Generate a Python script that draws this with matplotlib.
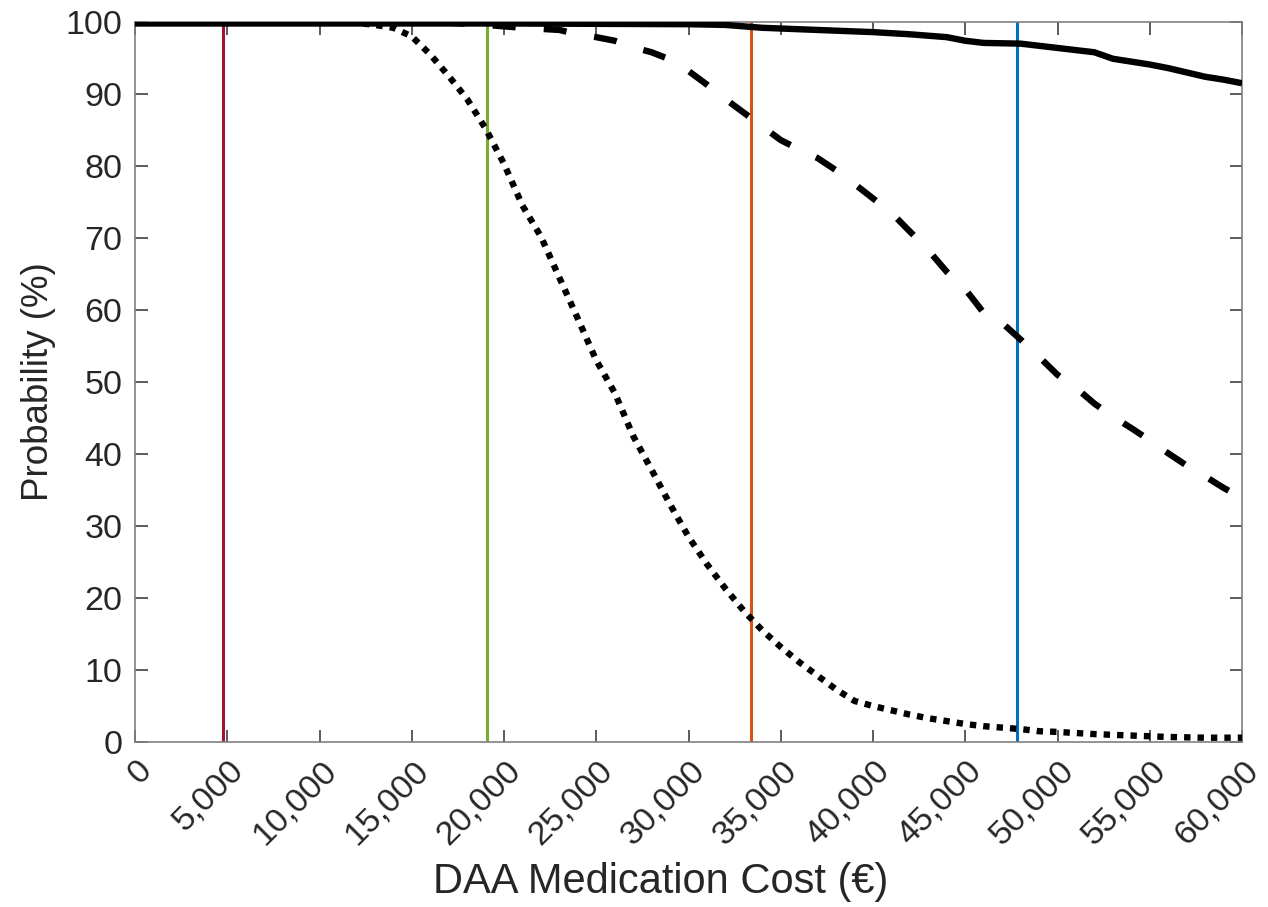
import matplotlib
matplotlib.use("Agg")
import matplotlib.pyplot as plt
from matplotlib.ticker import FuncFormatter
from matplotlib.transforms import ScaledTranslation

# ---- data ----
solid_x = [0, 10000, 20000, 30000, 32000, 34000, 36000, 38000, 40000, 42000, 44000,
           45000, 46000, 48000, 50000, 52000, 53000, 55000, 56000, 57000, 58000, 59000, 60000]
solid_y = [99.8, 99.8, 99.8, 99.7, 99.6, 99.2, 99.0, 98.8, 98.6, 98.3, 97.9,
           97.4, 97.1, 97.0, 96.4, 95.8, 94.9, 94.1, 93.6, 93.0, 92.4, 92.0, 91.5]

dashed_x = [0, 15000, 17000, 19000, 21000, 23000, 24000, 25000, 26000, 27000, 28000, 29000,
            30000, 31000, 32000, 33000, 34000, 35000, 36000, 37000, 38000, 39000, 40000,
            41000, 42000, 43000, 44000, 45000, 46000, 47000, 48000, 49000, 50000, 51000,
            52000, 53000, 54000, 55000, 56000, 57000, 58000, 59000, 60000]
dashed_y = [100, 100, 99.9, 99.6, 99.2, 98.9, 98.3, 97.9, 97.4, 96.5, 95.8, 94.8,
            93.2, 91.3, 89.3, 87.4, 85.5, 83.6, 82.3, 81.1, 79.4, 77.5, 75.5,
            73.5, 70.9, 68.3, 65.3, 62.9, 59.6, 58.2, 55.9, 53.5, 51.0, 49.2,
            47.0, 45.2, 43.6, 41.9, 40.1, 38.4, 36.9, 35.3, 33.9]

dotted_x = [0, 10000, 12000, 13000, 14000, 15000, 16000, 17000, 18000, 19000, 20000,
            21000, 22000, 23000, 24000, 25000, 26000, 27000, 28000, 29000, 30000, 31000,
            32000, 33000, 34000, 35000, 36000, 37000, 38000, 39000, 40000, 41000, 42000,
            43000, 44000, 45000, 46000, 47000, 48000, 49000, 50000, 52000, 54000, 56000,
            58000, 60000]
dotted_y = [100, 100, 99.9, 99.6, 99.2, 98.0, 95.5, 92.5, 89.3, 85.2, 80.3,
            74.5, 70.2, 64.5, 58.8, 53.0, 48.5, 42.5, 37.8, 33.0, 28.5, 24.7,
            21.3, 18.2, 15.5, 13.2, 11.1, 9.2, 7.3, 5.7, 5.0, 4.4, 3.8,
            3.3, 2.9, 2.5, 2.2, 2.0, 1.8, 1.5, 1.4, 1.1, 0.9, 0.7,
            0.6, 0.6]

vline_x = [4770, 19050, 33370, 47800]
vline_colors = ["#A2142F", "#77AC30", "#D95319", "#0072BD"]

x_ticks = list(range(0, 60001, 5000))
y_ticks = list(range(0, 101, 10))

# ---- figure ----
plt.rcParams['font.family'] = ['Liberation Sans', 'DejaVu Sans']
fig = plt.figure(figsize=(12.68, 9.07), dpi=100)
ax = fig.add_axes([0.1065, 0.1819, 0.8730, 0.7938])

for xv, c in zip(vline_x, vline_colors):
    ax.plot([xv, xv], [0, 100], color=c, lw=2.2, zorder=2)

lw = 4.6
ax.plot(solid_x, solid_y, color='black', lw=lw, solid_capstyle='butt', zorder=3)
l2, = ax.plot(dashed_x, dashed_y, color='black', lw=lw, zorder=3)
l2.set_dashes([3.6, 4.4])
l3, = ax.plot(dotted_x, dotted_y, color='black', lw=lw, zorder=3)
l3.set_dashes([1.0, 1.1])

ax.set_xlim(0, 60000)
ax.set_ylim(0, 100)
ax.set_xticks(x_ticks)
ax.set_yticks(y_ticks)
ax.xaxis.set_major_formatter(FuncFormatter(lambda v, p: f"{int(v):,}"))

txt = '#262626'
for s in ax.spines.values():
    s.set_color('#808080')
    s.set_linewidth(1.2)
ax.tick_params(axis='both', direction='in', length=9, width=1.2, color='#404040',
               labelsize=24.5, labelcolor=txt, top=True, right=True)
ax.tick_params(axis='y', pad=9)
ax.tick_params(axis='x', pad=17)
shift = ScaledTranslation(12 / 100, 0, fig.dpi_scale_trans)
for lab in ax.get_xticklabels():
    lab.set_rotation(45)
    lab.set_ha('right')
    lab.set_va('center')
    lab.set_rotation_mode('anchor')
    lab.set_transform(lab.get_transform() + shift)

ax.set_xlabel("DAA Medication Cost (€)", fontsize=30, color=txt)
ax.xaxis.set_label_coords(0.475, -0.166)
ax.set_ylabel("Probability (%)", fontsize=26.5, color=txt)
ax.yaxis.set_label_coords(-0.0716, 0.5)

fig.savefig("out.png", dpi=100, facecolor='white')
